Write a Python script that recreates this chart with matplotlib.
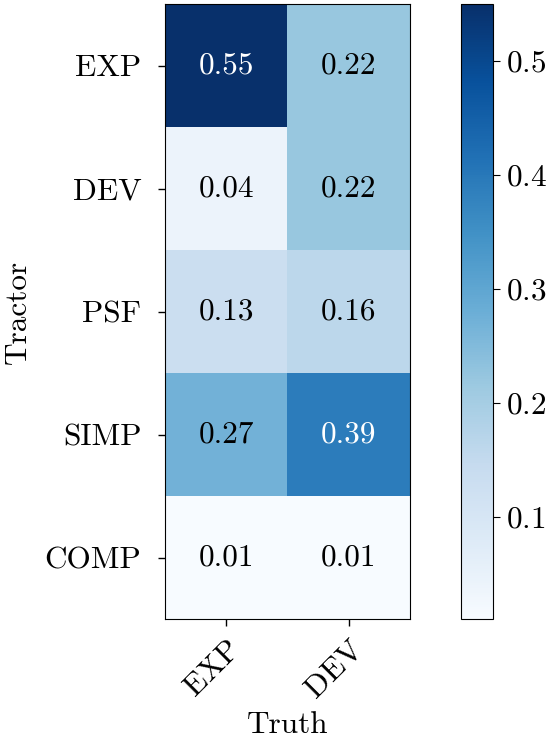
import numpy as np
import matplotlib
matplotlib.use("Agg")
import matplotlib.pyplot as plt

plt.rcParams['font.family'] = 'serif'
plt.rcParams['font.serif'] = ['cmr10', 'DejaVu Serif']
plt.rcParams['mathtext.fontset'] = 'cm'
plt.rcParams['axes.formatter.use_mathtext'] = True

rows = ["EXP", "DEV", "PSF", "SIMP", "COMP"]
cols = ["EXP", "DEV"]
exp_col = [0.55, 0.04, 0.13, 0.27, 0.01]
dev_col = [0.22, 0.22, 0.16, 0.39, 0.01]
cbar_ticks = [0.1, 0.2, 0.3, 0.4, 0.5]

M = np.array([exp_col, dev_col]).T

fig = plt.figure(figsize=(5.51, 7.45), dpi=100)
ax = fig.add_axes([165/551, 1-619/745, (410-165)/551, (619-4)/745])
cax = fig.add_axes([461/551, 1-619/745, (493-461)/551, (619-4)/745])

im = ax.imshow(M, cmap='Blues', aspect='auto', vmin=M.min(), vmax=M.max())
thresh = (M.max() + M.min()) / 2
fs = 22.5
for i in range(M.shape[0]):
    for j in range(M.shape[1]):
        ax.text(j, i, f"{M[i, j]:.2f}", ha='center', va='center', fontsize=fs,
                color='white' if M[i, j] > thresh else 'black')

ax.set_xticks(range(len(cols)))
ax.set_xticklabels(cols, rotation=45, ha='right', rotation_mode='anchor', fontsize=fs)
ax.set_yticks(range(len(rows)))
ax.set_yticklabels(rows, fontsize=fs)
ax.set_xlabel("Truth", fontsize=fs, labelpad=6)
ax.set_ylabel("Tractor", fontsize=fs, labelpad=9)
ax.tick_params(axis='y', length=5, width=1, pad=12)
ax.tick_params(axis='x', length=5, width=1, pad=6)

cb = fig.colorbar(im, cax=cax, ticks=cbar_ticks)
cb.ax.tick_params(labelsize=fs, length=5, pad=4)

fig.savefig("out.png", dpi=100)
